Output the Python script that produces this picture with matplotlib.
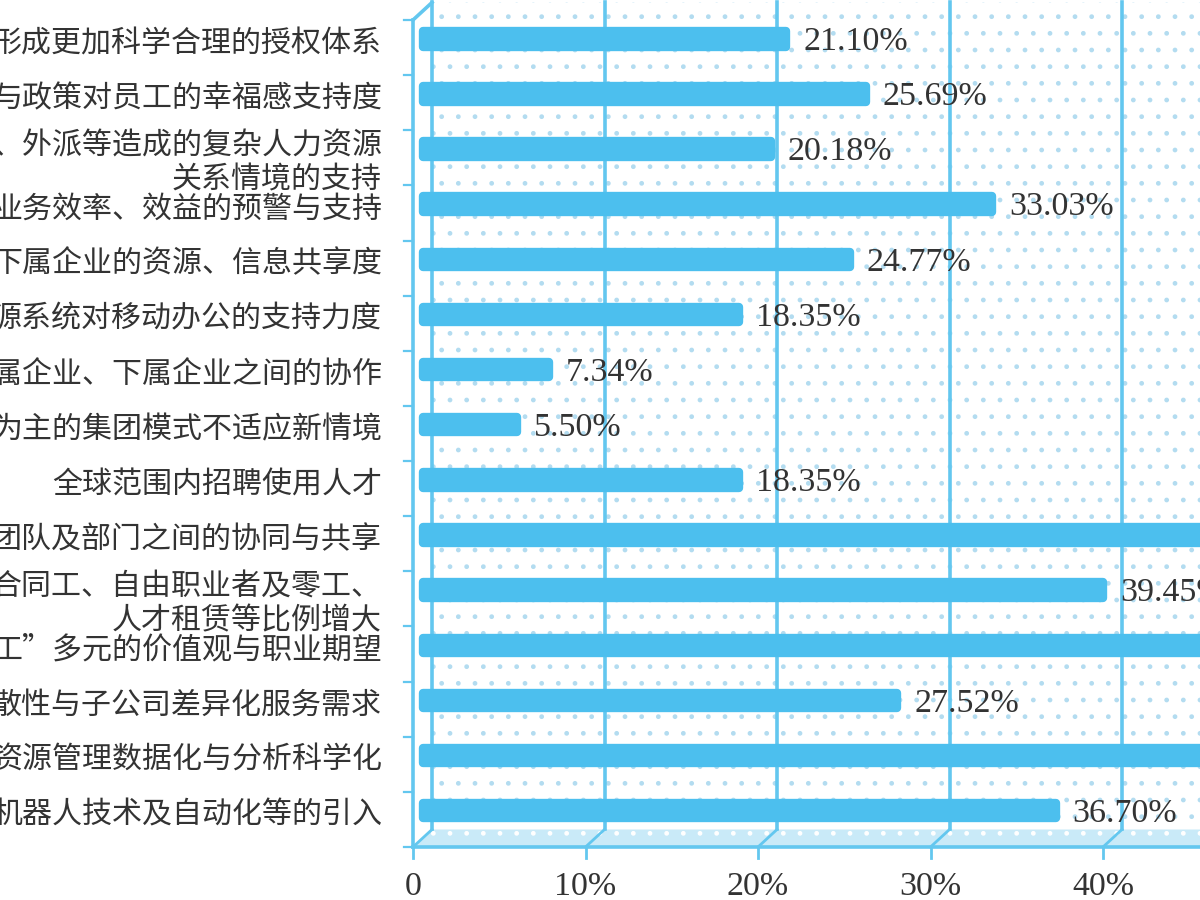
import matplotlib.pyplot as plt
from matplotlib.patches import Rectangle, Polygon
from matplotlib.lines import Line2D
from matplotlib.transforms import ScaledTranslation, IdentityTransform

plt.rcParams['font.family'] = ['Noto Sans CJK SC', 'DejaVu Sans']
plt.rcParams['hatch.linewidth'] = 1.0

# data (chart is cropped on the left and right in the original)
labels = [
    '形成更加科学合理的授权体系',
    '与政策对员工的幸福感支持度',
    '、外派等造成的复杂人力资源\n关系情境的支持',
    '业务效率、效益的预警与支持',
    '下属企业的资源、信息共享度',
    '源系统对移动办公的支持力度',
    '属企业、下属企业之间的协作',
    '为主的集团模式不适应新情境',
    '全球范围内招聘使用人才',
    '团队及部门之间的协同与共享',
    '合同工、自由职业者及零工、\n人才租赁等比例增大',
    '工”多元的价值观与职业期望',
    '散性与子公司差异化服务需求',
    '资源管理数据化与分析科学化',
    '机器人技术及自动化等的引入',
]
values = [21.10, 25.69, 20.18, 33.03, 24.77, 18.35, 7.34, 5.50, 18.35,
          47.71, 39.45, 52.29, 27.52, 56.88, 36.70]
ticks = [0, 10, 20, 30, 40]
tick_labels = ['0', '10%', '20%', '30%', '40%']

BLUE = '#4cbfee'
GRID = '#63c7ef'
DOT = '#b3dcf0'
FLOOR = '#c9eaf8'
TEXT = '#333333'
SERIF = ['Liberation Serif', 'DejaVu Serif']

fig = plt.figure(figsize=(12, 9), dpi=100)
ax = fig.add_axes([413 / 1200, 53 / 900, 787 / 1200, 827 / 900])
xmax = 787 / 17.25
n = len(values)
ax.set_xlim(0, xmax)
ax.set_ylim(n - 0.5, -0.5)
ax.axis('off')

# 3d depth offsets
DX, DY = 19, 17.5
back = ax.transData + ScaledTranslation(DX / 100, DY / 100, fig.dpi_scale_trans)
mid = ax.transData + ScaledTranslation(DX / 200, DY / 200, fig.dpi_scale_trans)

# back wall with dots
wall = Rectangle((0, -0.5), xmax + 5, n, transform=back, facecolor='white',
                 edgecolor=DOT, hatch='.', lw=0, clip_on=False, zorder=0)
ax.add_patch(wall)

# floor
f0 = ax.transData.transform((0, n - 0.5))
f1 = ax.transData.transform((xmax + 5, n - 0.5))
floor = Polygon([f0, f1, (f1[0] + DX, f1[1] + DY), (f0[0] + DX, f0[1] + DY)],
                closed=True, transform=IdentityTransform(), facecolor=FLOOR,
                edgecolor='white', hatch='.', lw=0, clip_on=False, zorder=1)
ax.add_patch(floor)

# grid lines: back wall + slant on floor + front tick
for t in ticks:
    ax.plot([t, t], [-0.5, n - 0.5], color=GRID, lw=2.6, transform=back,
            clip_on=False, zorder=2)
    p = ax.transData.transform((t, n - 0.5))
    fig.lines.append(Line2D([p[0], p[0] + DX], [p[1], p[1] + DY], color=GRID,
                            lw=2.0, transform=IdentityTransform(), zorder=2))
    fig.lines.append(Line2D([p[0], p[0]], [p[1], p[1] - 11], color=GRID,
                            lw=2.0, transform=IdentityTransform(), zorder=2))

# front axis lines
ax.plot([0, 0], [-0.5, n - 0.5], color=GRID, lw=2.6, clip_on=False, zorder=3)
ax.plot([0, xmax], [n - 0.5, n - 0.5], color=GRID, lw=2.6, clip_on=False, zorder=3)
p = ax.transData.transform((0, -0.5))
fig.lines.append(Line2D([p[0], p[0] + DX], [p[1], p[1] + DY], color=GRID,
                        lw=2.6, transform=IdentityTransform(), zorder=3))
for k in range(n + 1):
    p = ax.transData.transform((0, k - 0.5))
    fig.lines.append(Line2D([p[0] - 9, p[0]], [p[1], p[1]], color=GRID,
                            lw=1.6, transform=IdentityTransform(), zorder=3))

# bars
bars = ax.barh(range(n), values, height=0.28, color=BLUE, edgecolor=BLUE,
               linewidth=6, zorder=4)
for b in bars:
    b.set_transform(mid)
    b.set_joinstyle('round')
    b.set_clip_on(False)

# value labels
for i, v in enumerate(values):
    ax.annotate(f'{v:.2f}%', (v, i), xytext=(DX / 2 + 17, DY / 2 - 3),
                textcoords='offset pixels', ha='left', va='center',
                fontsize=24.5, color=TEXT, family=SERIF, annotation_clip=False,
                zorder=5)

# category labels
for i, lab in enumerate(labels):
    dy = -5 if '\n' in lab else 4
    ax.annotate(lab, (0, i), xytext=(-31, dy), textcoords='offset pixels',
                ha='right', va='center', fontsize=21.6, color=TEXT,
                fontweight='light', linespacing=1.12, annotation_clip=False)

# x tick labels
for t, tl in zip(ticks, tick_labels):
    ax.annotate(tl, (t, n - 0.5), xytext=(0, -40), textcoords='offset pixels',
                ha='center', va='center', fontsize=24.5, color=TEXT,
                family=SERIF, annotation_clip=False)

fig.savefig('out.png', dpi=100)
